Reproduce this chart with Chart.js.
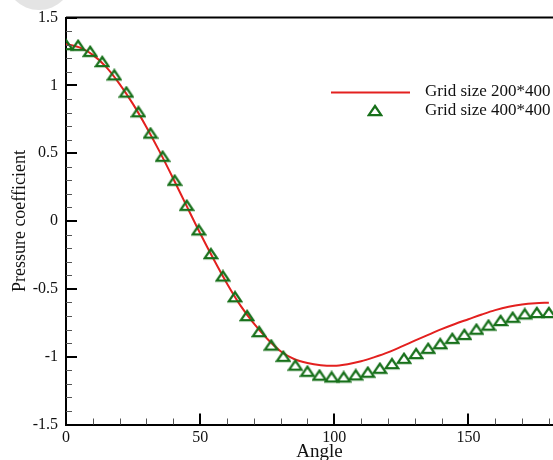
<!DOCTYPE html>
<html><head><meta charset="utf-8">
<script src="https://cdn.jsdelivr.net/npm/chart.js@4.4.0/dist/chart.umd.min.js"></script>
<style>
html,body{margin:0;padding:0;overflow:hidden;background:#fff;width:553px;height:460px;}
#wrap{position:relative;width:553px;height:460px;overflow:hidden;}
#blob{position:absolute;left:5px;top:-58px;width:68px;height:68px;border-radius:50%;background:#e4e4e4;}
#c{position:absolute;left:0;top:0;}
</style></head><body>
<div id="wrap"><div id="blob"></div><canvas id="c" width="573" height="460"></canvas></div>
<script>
// ---- data ----
const seriesLabels = ['Grid size 200*400', 'Grid size 400*400'];
const redAngles = [0,5,10,15,20,25,30,35,40,45,50,55,60,65,70,75,80,85,90,95,100,105,110,115,120,125,130,135,140,145,150,155,160,165,170,175,180];
const redValues = [1.305,1.28,1.225,1.135,1.01,0.862,0.692,0.508,0.312,0.11,-0.09,-0.28,-0.46,-0.622,-0.755,-0.868,-0.96,-1.017,-1.047,-1.063,-1.067,-1.055,-1.034,-1.003,-0.968,-0.926,-0.882,-0.839,-0.797,-0.759,-0.724,-0.689,-0.657,-0.632,-0.615,-0.606,-0.602];
const triAngles = [0,4.5,9,13.5,18,22.5,27,31.5,36,40.5,45,49.5,54,58.5,63,67.5,72,76.5,81,85.5,90,94.5,99,103.5,108,112.5,117,121.5,126,130.5,135,139.5,144,148.5,153,157.5,162,166.5,171,175.5,180];
const triValues = [1.29,1.285,1.24,1.165,1.067,0.94,0.795,0.638,0.467,0.29,0.105,-0.076,-0.251,-0.416,-0.569,-0.708,-0.826,-0.925,-1.008,-1.073,-1.118,-1.147,-1.16,-1.16,-1.145,-1.125,-1.096,-1.062,-1.023,-0.988,-0.949,-0.915,-0.876,-0.847,-0.808,-0.778,-0.744,-0.72,-0.695,-0.685,-0.685];
const xMajorTicks = [0,50,100,150];
const xMinorTicks = [10,20,30,40,60,70,80,90,110,120,130,140,160,170,180];
const yMajorTicks = [-1.5,-1,-0.5,0,0.5,1,1.5];
const yTickLabels = ['-1.5','-1','-0.5','0','0.5','1','1.5'];
const yMinorTicks = [-1.4,-1.3,-1.2,-1.1,-0.9,-0.8,-0.7,-0.6,-0.4,-0.3,-0.2,-0.1,0.1,0.2,0.3,0.4,0.6,0.7,0.8,0.9,1.1,1.2,1.3,1.4];
const xTitle = 'Angle';
const yTitle = 'Pressure coefficient';

const RED = '#e3201f';
const GREEN = '#17701a';
const FONT = 'Liberation Serif';

function makeTriangle(color){
  const c = document.createElement('canvas');
  c.width = 16; c.height = 16;
  const g = c.getContext('2d');
  g.strokeStyle = color; g.lineWidth = 2.3; g.lineJoin = 'miter';
  g.beginPath();
  g.moveTo(8, 2); g.lineTo(14.3, 11.2); g.lineTo(1.7, 11.2); g.closePath();
  g.stroke();
  return c;
}
const triImg = makeTriangle(GREEN);

const decor = {
  id: 'decor',
  afterDraw(chart){
    const {ctx, chartArea: a, scales: {x, y}} = chart;
    ctx.save();
    // top border
    ctx.strokeStyle = '#000'; ctx.lineWidth = 2;
    ctx.beginPath(); ctx.moveTo(a.left, a.top); ctx.lineTo(a.right, a.top); ctx.stroke();
    // y ticks (inward)
    yMajorTicks.forEach(v => {
      const p = Math.round(y.getPixelForValue(v));
      ctx.beginPath(); ctx.moveTo(a.left, p); ctx.lineTo(a.left + 11, p); ctx.stroke();
    });
    xMajorTicks.forEach(v => {
      const p = Math.round(x.getPixelForValue(v));
      ctx.beginPath(); ctx.moveTo(p, a.bottom); ctx.lineTo(p, a.bottom - 11); ctx.stroke();
    });
    ctx.strokeStyle = '#555'; ctx.lineWidth = 1;
    yMinorTicks.forEach(v => {
      const p = Math.round(y.getPixelForValue(v)) + 0.5;
      ctx.beginPath(); ctx.moveTo(a.left, p); ctx.lineTo(a.left + 6, p); ctx.stroke();
    });
    xMinorTicks.forEach(v => {
      const p = Math.round(x.getPixelForValue(v)) + 0.5;
      ctx.beginPath(); ctx.moveTo(p, a.bottom); ctx.lineTo(p, a.bottom - 6); ctx.stroke();
    });
    // legend
    ctx.strokeStyle = RED; ctx.lineWidth = 2;
    ctx.beginPath(); ctx.moveTo(331, 92.5); ctx.lineTo(410, 92.5); ctx.stroke();
    ctx.drawImage(triImg, 375 - 8, 112 - 8);
    ctx.fillStyle = '#111';
    ctx.font = '17px "' + FONT + '"';
    ctx.textBaseline = 'middle'; ctx.textAlign = 'left';
    ctx.fillText(seriesLabels[0], 425, 92);
    ctx.fillText(seriesLabels[1], 425, 111);
    ctx.restore();
  }
};

new Chart(document.getElementById('c'), {
  type: 'scatter',
  data: {
    datasets: [
      {
        label: seriesLabels[1],
        data: triAngles.map((a, i) => ({x: a, y: triValues[i]})),
        showLine: false,
        pointStyle: triImg,
        pointRadius: 7,
        borderColor: GREEN,
        backgroundColor: 'transparent',
        order: 1
      },
      {
        label: seriesLabels[0],
        data: redAngles.map((a, i) => ({x: a, y: redValues[i]})),
        showLine: true,
        borderColor: RED,
        borderWidth: 2,
        pointRadius: 0,
        cubicInterpolationMode: 'monotone',
        fill: false,
        order: 2
      }
    ]
  },
  options: {
    responsive: false,
    animation: false,
    devicePixelRatio: 1,
    layout: {padding: {top: 16, left: 0, right: 0, bottom: 0}, autoPadding: false},
    plugins: {legend: {display: false}, tooltip: {enabled: false}},
    scales: {
      x: {
        type: 'linear', min: 0, max: 189,
        afterBuildTicks: s => { s.ticks = xMajorTicks.map(v => ({value: v})); },
        afterFit: s => { s.height = 35.5; },
        grid: {display: false, drawTicks: false},
        border: {display: true, color: '#000', width: 2},
        ticks: {padding: 4, color: '#111', font: {family: FONT, size: 16}, maxRotation: 0, callback: v => String(v)},
        title: {display: true, text: xTitle, color: '#111', font: {family: FONT, size: 19, lineHeight: '16px'}, padding: {top: 0, bottom: 0}}
      },
      y: {
        type: 'linear', min: -1.5, max: 1.5,
        afterBuildTicks: s => { s.ticks = yMajorTicks.map(v => ({value: v})); },
        afterFit: s => { s.width = 66; },
        grid: {display: false, drawTicks: false},
        border: {display: true, color: '#000', width: 2},
        ticks: {padding: 8, color: '#111', font: {family: FONT, size: 16},
          callback: v => { const i = yMajorTicks.indexOf(v); return i >= 0 ? yTickLabels[i] : ''; }},
        title: {display: true, text: yTitle, color: '#111', font: {family: FONT, size: 18, lineHeight: '18px'}, padding: {top: 11, bottom: 0}}
      }
    }
  },
  plugins: [decor]
});
</script>
</body></html>
